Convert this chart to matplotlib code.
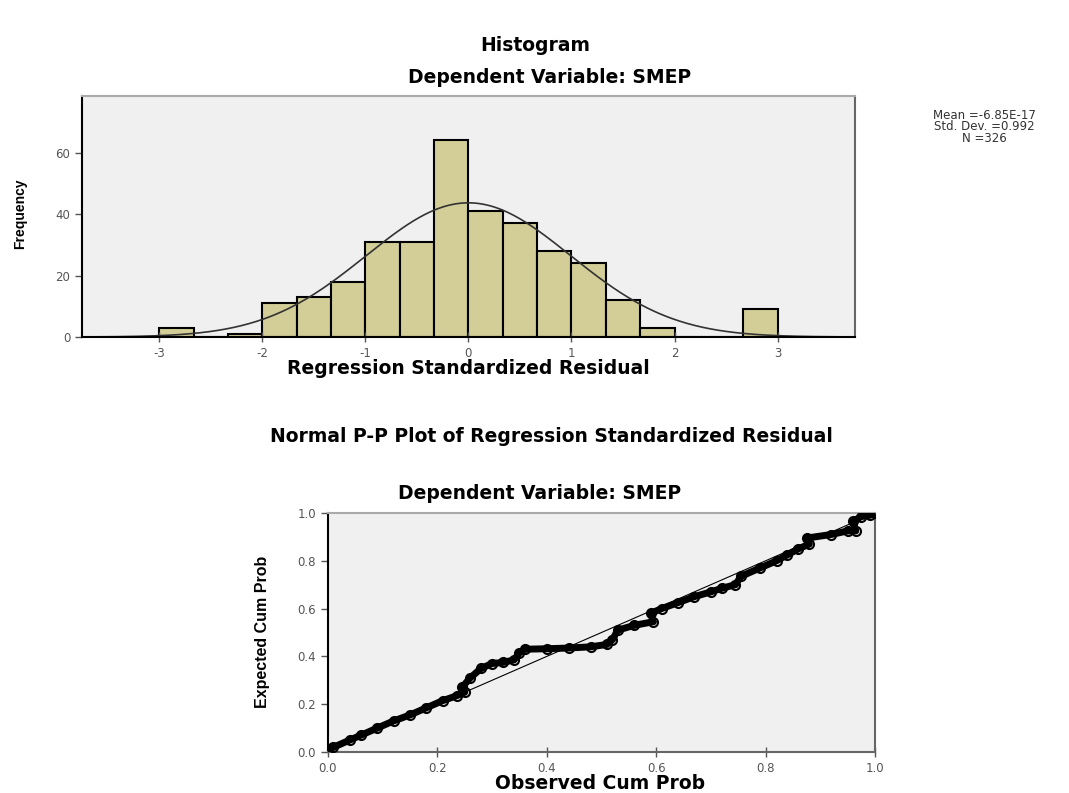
import numpy as np
import matplotlib.pyplot as plt

plt.rcParams['axes.unicode_minus'] = False

# histogram of regression standardized residuals (bin width 1/3)
bin_width = 1 / 3
bin_start = -3.0
counts = [3, 0, 1, 11, 13, 18, 31, 31, 64, 41, 37, 28, 24, 12, 3, 0, 0, 9]
res_mean = -6.85e-17
res_sd = 0.992
n_obs = 326

# normal P-P plot, traced along the band of points
pp_obs = [0.00, 0.01, 0.04, 0.06, 0.09, 0.12, 0.15, 0.18, 0.21, 0.235, 0.25,
          0.245, 0.26, 0.28, 0.30, 0.32, 0.34, 0.35, 0.36, 0.40, 0.44, 0.48,
          0.51, 0.52, 0.53, 0.56, 0.595, 0.59, 0.61, 0.64, 0.67, 0.70, 0.72,
          0.745, 0.755, 0.79, 0.82, 0.84, 0.86, 0.88, 0.875, 0.92, 0.95,
          0.965, 0.96, 0.975, 0.99, 1.0]
pp_exp = [0.01, 0.02, 0.05, 0.07, 0.10, 0.13, 0.155, 0.185, 0.215, 0.235, 0.25,
          0.27, 0.31, 0.35, 0.37, 0.375, 0.385, 0.415, 0.43, 0.432, 0.435, 0.44,
          0.45, 0.47, 0.51, 0.53, 0.545, 0.58, 0.60, 0.625, 0.65, 0.67, 0.685,
          0.70, 0.735, 0.77, 0.80, 0.825, 0.85, 0.87, 0.895, 0.91, 0.925,
          0.925, 0.965, 0.985, 0.99, 1.0]

bg = '#F0F0F0'
bar_color = '#D3CE97'
tick_gray = '#555555'
title_font = dict(family='DejaVu Sans', weight='bold', size=13.5)

fig = plt.figure(figsize=(10.69, 7.93), dpi=100)


def style_axes(ax):
    ax.set_facecolor(bg)
    ax.spines['left'].set_color('black')
    ax.spines['bottom'].set_color('black')
    ax.spines['top'].set_color('#AAAAAA')
    ax.spines['right'].set_color('#666666')
    for s in ax.spines.values():
        s.set_linewidth(1.5)
    ax.tick_params(axis='both', colors=tick_gray, labelsize=8.5, length=5, width=1)
    ax.tick_params(axis='x', direction='inout', length=7)


# ---- histogram ----
ax1 = fig.add_axes([0.0767, 0.575, 0.723, 0.304])
style_axes(ax1)
lefts = bin_start + bin_width * np.arange(len(counts))
ax1.bar(lefts, counts, width=bin_width, align='edge', color=bar_color,
        edgecolor='black', linewidth=1.5)
xs = np.linspace(-3.75, 3.75, 400)
pdf = np.exp(-0.5 * ((xs - res_mean) / res_sd) ** 2) / (res_sd * np.sqrt(2 * np.pi))
ax1.plot(xs, n_obs * bin_width * pdf, color='#333333', linewidth=1.2)
ax1.set_xlim(-3.75, 3.75)
ax1.set_ylim(0, 78.5)
ax1.set_xticks([-3, -2, -1, 0, 1, 2, 3])
ax1.set_yticks([0, 20, 40, 60])

fig.text(0.501, 0.943, 'Histogram', ha='center', va='center', **title_font)
fig.text(0.514, 0.902, 'Dependent Variable: SMEP', ha='center', va='center', **title_font)
fig.text(0.438, 0.535, 'Regression Standardized Residual', ha='center', va='center', **title_font)
fig.text(0.019, 0.73, 'Frequency', rotation=90, ha='center', va='center',
         family='Liberation Sans', weight='bold', size=10)
fig.text(0.921, 0.84, 'Mean =-6.85E-17\nStd. Dev. =0.992\nN =326', ha='center',
         va='center', size=8.5, color='#333333', linespacing=0.85)

# ---- P-P plot ----
ax2 = fig.add_axes([0.3068, 0.0517, 0.5117, 0.3014])
style_axes(ax2)
ax2.spines['bottom'].set_color('#666666')
ax2.plot([0, 1], [0, 1], color='black', linewidth=0.8, zorder=2)
ax2.plot(pp_obs, pp_exp, color='black', linewidth=5, zorder=3)
ax2.plot(pp_obs, pp_exp, linestyle='none', marker='o', markersize=6.5,
         markerfacecolor='none', markeredgecolor='black', markeredgewidth=1.5, zorder=4)
ax2.set_xlim(0, 1)
ax2.set_ylim(0, 1)
ticks = [0.0, 0.2, 0.4, 0.6, 0.8, 1.0]
ax2.set_xticks(ticks)
ax2.set_yticks(ticks)
ax2.set_xticklabels([f'{t:.1f}' for t in ticks])
ax2.set_yticklabels([f'{t:.1f}' for t in ticks])

fig.text(0.516, 0.449, 'Normal P-P Plot of Regression Standardized Residual',
         ha='center', va='center', **title_font)
fig.text(0.505, 0.378, 'Dependent Variable: SMEP', ha='center', va='center', **title_font)
fig.text(0.561, 0.0126, 'Observed Cum Prob', ha='center', va='center', **title_font)
fig.text(0.246, 0.203, 'Expected Cum Prob', rotation=90, ha='center', va='center',
         family='Liberation Sans', weight='bold', size=11.5)

plt.savefig('out.png', dpi=100)
